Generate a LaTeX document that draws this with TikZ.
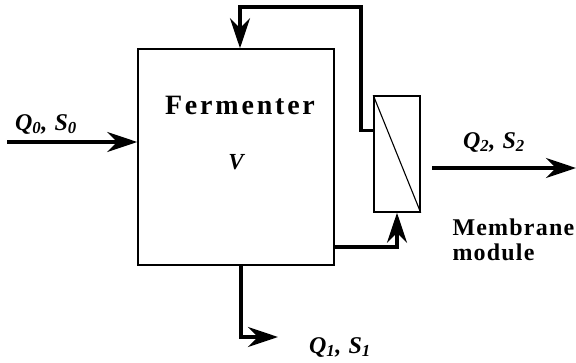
\documentclass[tikz,border=0pt]{standalone}
\usepackage{fontspec}
\setmainfont{Liberation Serif}
\usetikzlibrary{arrows.meta, positioning, calc}

\begin{document}
\begin{tikzpicture}[x=1pt, y=-1pt,
  vessel/.style={draw, line width=1.5pt, inner sep=0pt},
  flow/.style={line width=3.4pt, -{Stealth[length=30pt, width=20pt, inset=10pt]}},
  stream/.style={font=\fontsize{24}{26}\selectfont\bfseries\itshape\addfontfeature{LetterSpace=5}}
]
  \useasboundingbox (0,0) rectangle (576,362);

  % Fermenter
  \node[font=\fontsize{28}{30}\selectfont\bfseries\addfontfeature{LetterSpace=10}] (ftitle) at (240,105) {Fermenter};
  \node[vessel, minimum width=196pt, minimum height=216pt] (fermenter) at (236,157) {};
  \node[font=\fontsize{23}{25}\selectfont\bfseries\itshape] (vol) at (236,162) {V};

  % Membrane module
  \node[vessel, minimum width=46pt, minimum height=116pt] (membrane) at (397,154) {};
  \draw[line width=1.1pt] (membrane.north west) -- (membrane.south east);
  \node[anchor=west, align=left, font=\fontsize{24}{25}\selectfont\bfseries\addfontfeature{LetterSpace=5}] (mlabel) at (449,240) {Membrane\\module};

  % Feed
  \coordinate (feed) at (7,142);
  \draw[flow] (feed) -- (feed -| fermenter.west);
  \node[stream] (q0) at (46,124) {Q\textsubscript{0}, S\textsubscript{0}};

  % Recycle
  \coordinate (rec) at ($(membrane.north west)!0.3!(membrane.south west)$);
  \coordinate (rtop) at (361,7);
  \coordinate (rin) at ($(fermenter.north)+(4,0)$);
  \draw[flow] (rec) -| (rtop) -| (rin);

  % To membrane
  \draw[flow] (fermenter.east |- 0,247) -| (membrane.south);

  % Bleed
  \coordinate (bout) at ($(fermenter.south)+(5,0)$);
  \coordinate (bleed) at (278,337);
  \draw[flow] (bout) |- (bleed);
  \node[stream] (q1) at (340,347) {Q\textsubscript{1}, S\textsubscript{1}};

  % Permeate
  \coordinate (perm1) at (432,168);
  \coordinate (perm2) at (576,168);
  \draw[flow] (perm1) -- (perm2);
  \node[stream] (q2) at (494,142) {Q\textsubscript{2}, S\textsubscript{2}};
\end{tikzpicture}
\end{document}
